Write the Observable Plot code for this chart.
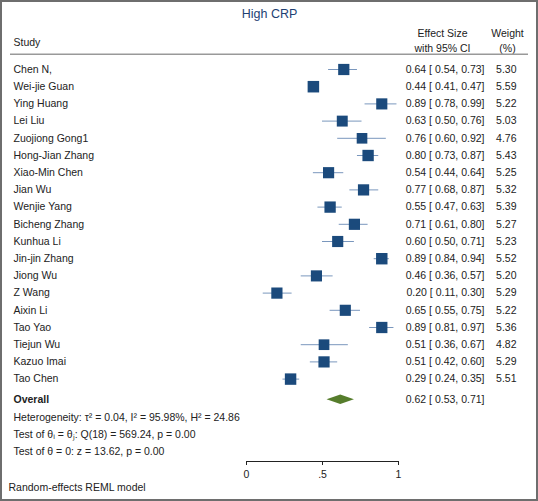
<!DOCTYPE html>
<html><head><meta charset="utf-8">
<script src="https://cdn.jsdelivr.net/npm/d3@7"></script>
<script src="https://cdn.jsdelivr.net/npm/@observablehq/plot@0.6"></script>
<style>
body{margin:0;background:#fff}
#chart svg{display:block;outline:2px solid #6e6e6e;outline-offset:-2px}
</style>
</head><body><div id="chart"></div>
<script>
const title = "High CRP";
const studies = ["Chen N,","Wei-jie Guan","Ying Huang","Lei Liu","Zuojiong Gong1","Hong-Jian Zhang","Xiao-Min Chen","Jian Wu","Wenjie Yang","Bicheng Zhang","Kunhua Li","Jin-jin Zhang","Jiong Wu","Z Wang","Aixin Li","Tao Yao","Tiejun Wu","Kazuo Imai","Tao Chen"];
const effect = [0.64,0.44,0.89,0.63,0.76,0.80,0.54,0.77,0.55,0.71,0.60,0.89,0.46,0.20,0.65,0.89,0.51,0.51,0.29];
const lower  = [0.54,0.41,0.78,0.50,0.60,0.73,0.44,0.68,0.47,0.61,0.50,0.84,0.36,0.11,0.55,0.81,0.36,0.42,0.24];
const upper  = [0.73,0.47,0.99,0.76,0.92,0.87,0.64,0.87,0.63,0.80,0.71,0.94,0.57,0.30,0.75,0.97,0.67,0.60,0.35];
const weight = [5.30,5.59,5.22,5.03,4.76,5.43,5.25,5.32,5.39,5.27,5.23,5.52,5.20,5.29,5.22,5.36,4.82,5.29,5.51];
const overallLabel = "Overall";
const overallEffect = 0.62, overallLower = 0.53, overallUpper = 0.71;
const statLines = [
  "Heterogeneity: τ² = 0.04, I² = 95.98%, H² = 24.86",
  "Test of θᵢ = θⱼ: Q(18) = 569.24, p = 0.00",
  "Test of θ = 0: z = 13.62, p = 0.00"
];
const modelNote = "Random-effects REML model";
const headerStudy = "Study";
const headerEffect = ["Effect Size", "with 95% CI"];
const headerWeight = ["Weight", "(%)"];
const xTicks = [0, 0.5, 1];

const f2 = v => v.toFixed(2);
const rows = studies.map((s, i) => ({study: s, es: effect[i], lo: lower[i], hi: upper[i], w: weight[i], row: i}));
const overallRow = 19.2;
const statRows = [20.25, 21.22, 22.2];
const dh = 0.27;
const diamond = [
  {x: overallLower, y1: overallRow, y2: overallRow},
  {x: overallEffect, y1: overallRow - dh, y2: overallRow + dh},
  {x: overallUpper, y1: overallRow, y2: overallRow}
];

const sq = "#1b4a7c", ci = "#7a97bd", txt = "#222";

const plot = Plot.plot({
  width: 538, height: 501,
  marginLeft: 246, marginRight: 140, marginTop: 0, marginBottom: 40,
  style: {fontFamily: "Liberation Sans, Arial, sans-serif", fontSize: "10.5px", color: txt, background: "#fff"},
  x: {domain: [0, 1], ticks: xTicks, tickFormat: d => d === 0.5 ? ".5" : String(d), tickSize: 4, line: true, label: null},
  y: {domain: [0, 18], range: [69, 378.6], axis: null},
  r: {domain: [0, d3.max(weight)], range: [0, 6.5]},
  marks: [
    // header
    Plot.text([title], {text: d => d, frameAnchor: "top", dx: -53, dy: 13, lineAnchor: "middle", fontSize: 12.5, fill: "#1e3f73"}),
    Plot.text([headerStudy], {text: d => d, frameAnchor: "top-left", dx: -233, dy: 42, lineAnchor: "middle", textAnchor: "start"}),
    Plot.text([headerEffect[0]], {text: d => d, frameAnchor: "top-right", dx: 44, dy: 33, lineAnchor: "middle", textAnchor: "middle"}),
    Plot.text([headerEffect[1]], {text: d => d, frameAnchor: "top-right", dx: 44, dy: 48, lineAnchor: "middle", textAnchor: "middle"}),
    Plot.text([headerWeight[0]], {text: d => d, frameAnchor: "top-right", dx: 109, dy: 33, lineAnchor: "middle", textAnchor: "middle"}),
    Plot.text([headerWeight[1]], {text: d => d, frameAnchor: "top-right", dx: 109, dy: 48, lineAnchor: "middle", textAnchor: "middle"}),
    Plot.ruleY([-0.88], {insetLeft: -236, insetRight: -130, stroke: "#999", strokeWidth: 1.5}),
    // study rows
    Plot.text(rows, {y: "row", text: "study", frameAnchor: "left", dx: -233, textAnchor: "start"}),
    Plot.ruleY(rows, {y: "row", x1: "lo", x2: "hi", stroke: ci, strokeWidth: 1}),
    Plot.dot(rows, {y: "row", x: "es", r: "w", symbol: "square", fill: sq, stroke: "none"}),
    Plot.text(rows, {y: "row", text: d => `${f2(d.es)} [ ${f2(d.lo)}, ${f2(d.hi)}]`, frameAnchor: "right", dx: 86, textAnchor: "end"}),
    Plot.text(rows, {y: "row", text: d => f2(d.w), frameAnchor: "right", dx: 118, textAnchor: "end"}),
    // overall
    Plot.text([overallLabel], {y: [overallRow], text: d => d, frameAnchor: "left", dx: -233, textAnchor: "start", fontWeight: "bold"}),
    Plot.areaY(diamond, {x: "x", y1: "y1", y2: "y2", fill: "#567d2c"}),
    Plot.text([`${f2(overallEffect)} [ ${f2(overallLower)}, ${f2(overallUpper)}]`], {y: [overallRow], text: d => d, frameAnchor: "right", dx: 86, textAnchor: "end"}),
    Plot.text(statLines, {y: statRows, text: d => d, frameAnchor: "left", dx: -233, textAnchor: "start"}),
    Plot.text([modelNote], {text: d => d, frameAnchor: "bottom-left", dx: -238, dy: 26, lineAnchor: "middle", textAnchor: "start"})
  ]
});
document.getElementById("chart").appendChild(plot);
</script>
</body></html>
